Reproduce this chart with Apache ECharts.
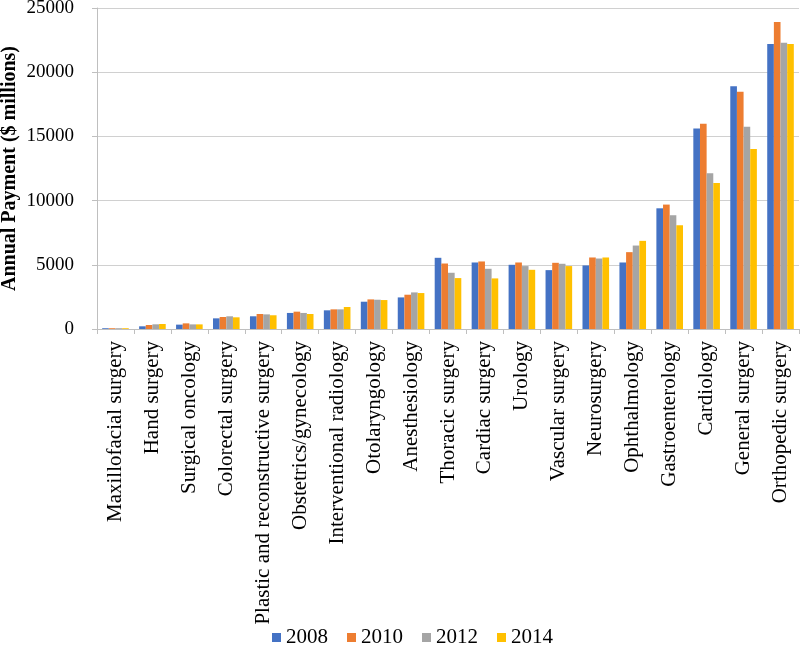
<!DOCTYPE html>
<html>
<head>
<meta charset="utf-8">
<script src="https://cdn.jsdelivr.net/npm/echarts@6/dist/echarts.min.js"></script>
<style>html,body{margin:0;padding:0;background:#fff}#c{width:800px;height:645px}</style>
</head>
<body>
<div id="c"></div>
<script>
const categories = ["Maxillofacial surgery","Hand surgery","Surgical oncology","Colorectal surgery","Plastic and reconstructive surgery","Obstetrics/gynecology","Interventional radiology","Otolaryngology","Anesthesiology","Thoracic surgery","Cardiac surgery","Urology","Vascular surgery","Neurosurgery","Ophthalmology","Gastroenterology","Cardiology","General surgery","Orthopedic surgery"];
const seriesNames = ["2008","2010","2012","2014"];
const v2008 = [60, 210, 340, 830, 990, 1250, 1455, 2125, 2460, 5545, 5180, 5000, 4585, 4950, 5180, 9400, 15620, 18910, 22200];
const v2010 = [60, 310, 440, 935, 1170, 1350, 1530, 2305, 2670, 5100, 5260, 5180, 5155, 5570, 5985, 9690, 15985, 18470, 23910];
const v2012 = [60, 365, 360, 990, 1140, 1250, 1530, 2280, 2850, 4380, 4690, 4900, 5080, 5490, 6500, 8860, 12125, 15750, 22300];
const v2014 = [60, 390, 360, 910, 1070, 1170, 1715, 2255, 2800, 3965, 3940, 4610, 4900, 5570, 6865, 8080, 11370, 14015, 22200];
const colors = ["#4472C4","#ED7D31","#A5A5A5","#FFC000"];
const yTicks = {min: 0, max: 25000, interval: 5000};
const font = "'Liberation Serif','Times New Roman',serif";
const values = [v2008, v2010, v2012, v2014];

const chart = echarts.init(document.getElementById('c'), null, {renderer: 'canvas'});
chart.setOption({
  animation: false,
  color: colors,
  textStyle: {fontFamily: font, color: '#000'},
  grid: {left: 97, right: 1, top: 8, bottom: 316, containLabel: false, outerBoundsMode: 'none'},
  legend: {
    data: seriesNames,
    left: 272, top: 627, padding: 0,
    itemWidth: 9, itemHeight: 9, itemGap: 19,
    icon: 'rect',
    textStyle: {fontFamily: font, fontSize: 21, color: '#000'}
  },
  xAxis: {
    type: 'category',
    data: categories,
    axisLine: {lineStyle: {color: '#bfbfbf', width: 1}},
    axisTick: {show: true, length: 5, alignWithLabel: false, lineStyle: {color: '#bfbfbf'}},
    axisLabel: {rotate: 90, interval: 0, margin: 12, fontFamily: font, fontSize: 21, color: '#000'},
    splitLine: {show: false}
  },
  yAxis: {
    type: 'value',
    min: yTicks.min, max: yTicks.max, interval: yTicks.interval,
    name: 'Annual Payment ($ millions)',
    nameLocation: 'middle',
    nameGap: 77,
    nameMoveOverlap: false,
    nameTextStyle: {fontFamily: font, fontSize: 20, fontWeight: 'bold', color: '#000'},
    axisLine: {show: true, lineStyle: {color: '#bfbfbf', width: 1}},
    axisTick: {show: true, length: 5, lineStyle: {color: '#bfbfbf'}},
    axisLabel: {margin: 23, fontFamily: font, fontSize: 19, color: '#000', formatter: v => String(v)},
    splitLine: {lineStyle: {color: '#d0d0d0', width: 1}}
  },
  series: seriesNames.map((n, i) => ({
    name: n,
    type: 'bar',
    data: values[i],
    barGap: '0%',
    barCategoryGap: '28%',
    itemStyle: {color: colors[i]}
  }))
});
</script>
</body>
</html>
